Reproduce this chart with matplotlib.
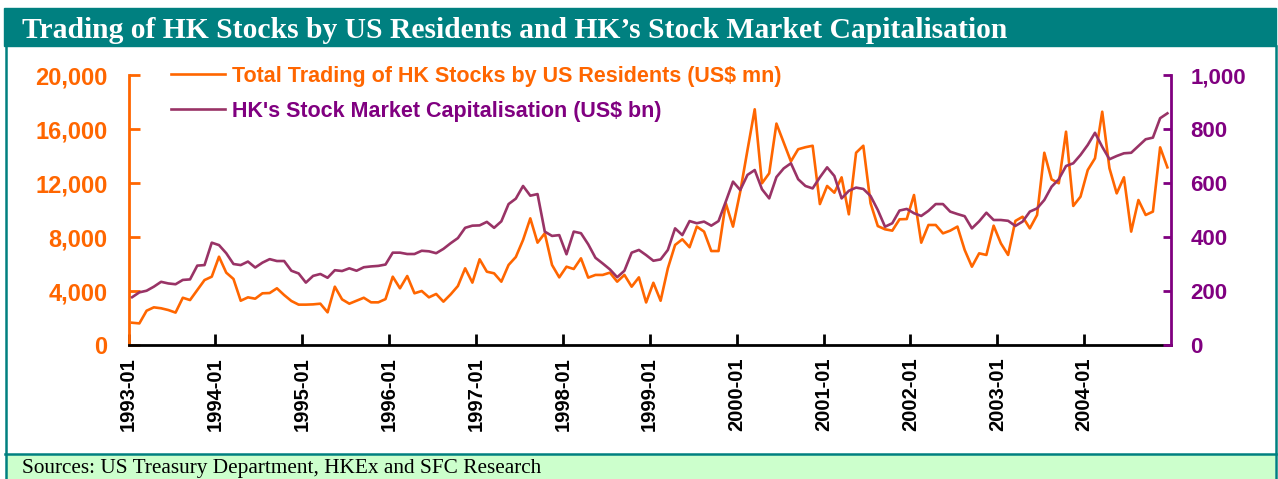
import matplotlib.pyplot as plt
from matplotlib.patches import Rectangle
from matplotlib.lines import Line2D

# monthly data, 1993-01 .. 2004-12
trading = [
    1650, 1600, 2540, 2790, 2720, 2590, 2400, 3500, 3330, 4070, 4810, 5060,
    6540, 5360, 4890, 3280, 3530, 3430, 3830, 3850, 4200, 3700, 3260, 2990,
    2990, 3010, 3060, 2420, 4320, 3380, 3060, 3280, 3500, 3160, 3160, 3400,
    5060, 4200, 5110, 3830, 4000, 3530, 3780, 3210, 3750, 4370, 5680, 4620,
    6350, 5430, 5310, 4690, 5930, 6520, 7780, 9380, 7580, 8270, 5930, 5010,
    5800, 5630, 6420, 4990, 5190, 5190, 5360, 4690, 5190, 4320, 5010, 3150,
    4610, 3280, 5680, 7410, 7830, 7240, 8770, 8400, 6960, 6960, 10500, 8770,
    11360, 14440, 17460, 11980, 12720, 16400, 15000, 13600, 14500, 14650, 14760, 10440,
    11780, 11280, 12420, 9680, 14240, 14760, 10500, 8810, 8570, 8470, 9310, 9330,
    11110, 7580, 8890, 8890, 8270, 8470, 8770, 7040, 5800, 6790, 6670, 8840,
    7530, 6670, 9190, 9500, 8640, 9630, 14240, 12270, 11980, 15800, 10300, 10990,
    12960, 13830, 17280, 13090, 11230, 12420, 8400, 10740, 9630, 9880, 14640, 13160,
]
mktcap = [
    177, 195, 201, 216, 234, 228, 225, 241, 243, 294, 296, 379,
    370, 340, 300, 296, 309, 287, 305, 318, 311, 311, 275, 265,
    231, 256, 263, 249, 277, 274, 284, 275, 288, 291, 293, 298,
    342, 342, 337, 337, 349, 347, 340, 356, 377, 396, 434, 442,
    443, 456, 434, 458, 522, 542, 589, 553, 559, 420, 404, 407,
    336, 420, 414, 373, 323, 302, 280, 251, 275, 342, 352, 333,
    312, 317, 352, 432, 407, 459, 451, 457, 442, 459, 531, 605,
    574, 630, 648, 577, 543, 622, 654, 673, 614, 589, 580, 621,
    658, 626, 543, 571, 583, 578, 552, 500, 438, 451, 498, 504,
    488, 478, 497, 522, 522, 494, 485, 477, 432, 458, 490, 463,
    463, 460, 441, 457, 494, 506, 537, 586, 614, 663, 673, 704,
    741, 786, 734, 688, 700, 710, 712, 737, 762, 768, 840, 858,
]
year_labels = ['1993-01', '1994-01', '1995-01', '1996-01', '1997-01', '1998-01',
               '1999-01', '2000-01', '2001-01', '2002-01', '2003-01', '2004-01']
left_ticks = [0, 4000, 8000, 12000, 16000, 20000]
right_ticks = [0, 200, 400, 600, 800, 1000]

ORANGE = '#FF6600'
PURPLE = '#800080'
PLINE = '#993366'
TEAL = '#008080'

W, H = 1278, 479
fig = plt.figure(figsize=(W / 100, H / 100), dpi=100)

def fx(px):
    return px / W

def fy(py):
    return 1 - py / H

# frame, title bar and footer
fig.patches.append(Rectangle((fx(4), fy(46)), fx(1276) - fx(4), fy(8) - fy(46),
                             transform=fig.transFigure, color=TEAL, zorder=0))
fig.patches.append(Rectangle((fx(6), fy(480)), fx(1275) - fx(6), fy(454) - fy(480),
                             transform=fig.transFigure, facecolor='#CCFFCC',
                             edgecolor='none', zorder=0))
for xs, ys in [([fx(5.5), fx(5.5)], [fy(46), fy(479)]),
               ([fx(1276), fx(1276)], [fy(46), fy(479)]),
               ([fx(5), fx(1276)], [fy(454), fy(454)])]:
    fig.lines.append(Line2D(xs, ys, transform=fig.transFigure, color=TEAL, lw=1.8))

fig.text(fx(22), fy(30), 'Trading of HK Stocks by US Residents and HK\u2019s Stock Market Capitalisation',
         color='white', fontsize=21.3, fontweight='bold', family='Liberation Serif', va='center')
fig.text(fx(22), fy(468), 'Sources: US Treasury Department, HKEx and SFC Research',
         color='black', fontsize=15.3, family='Liberation Serif', va='center')

ax = fig.add_axes([fx(128.5), fy(345), fx(1171) - fx(128.5), fy(75) - fy(345)])
x = [i + 0.5 for i in range(len(trading))]
l1, = ax.plot(x, trading, color=ORANGE, lw=1.9,
              label='Total Trading of HK Stocks by US Residents (US$ mn)')
ax2 = ax.twinx()
l2, = ax2.plot(x, mktcap, color=PLINE, lw=1.9,
               label="HK's Stock Market Capitalisation (US$ bn)")

ax.set_xlim(0, 144)
ax.set_ylim(0, 20000)
ax2.set_ylim(0, 1000)

ax.set_xticks(range(0, 144, 12))
ax.set_xticklabels(year_labels, rotation=90, fontweight='bold', family='Liberation Sans')
ax.set_yticks(left_ticks)
ax.set_yticklabels([f'{v:,}' for v in left_ticks], fontweight='bold', family='Liberation Sans')
ax2.set_yticks(right_ticks)
ax2.set_yticklabels([f'{v:,}' for v in right_ticks], fontweight='bold', family='Liberation Sans')

for a in (ax, ax2):
    a.spines['top'].set_visible(False)
ax.spines['right'].set_visible(False)
ax2.spines['left'].set_visible(False)
ax2.spines['bottom'].set_visible(False)
ax.spines['left'].set_color(ORANGE)
ax.spines['left'].set_linewidth(2)
ax2.spines['right'].set_color(PURPLE)
ax2.spines['right'].set_linewidth(2)
ax.spines['bottom'].set_linewidth(2)

ax.tick_params(axis='x', direction='in', length=8, width=2, labelsize=14.5, pad=9)
ax.tick_params(axis='y', direction='in', length=8, width=2, color=ORANGE,
               labelcolor=ORANGE, labelsize=17, pad=15)
ax2.tick_params(axis='y', direction='in', length=6, width=2, color=PURPLE,
                labelcolor=PURPLE, labelsize=16, pad=14)

leg = ax2.legend(handles=[l1, l2], loc='upper left', frameon=False,
                 bbox_to_anchor=(fx(171), fy(66)), bbox_transform=fig.transFigure,
                 borderpad=0, borderaxespad=0, handlelength=2.5, handletextpad=0.35,
                 labelspacing=0.65, prop={'family': 'Liberation Sans', 'weight': 'bold', 'size': 15.5})
leg.get_texts()[0].set_color(ORANGE)
leg.get_texts()[1].set_color(PURPLE)

fig.savefig('out.png', dpi=100)
